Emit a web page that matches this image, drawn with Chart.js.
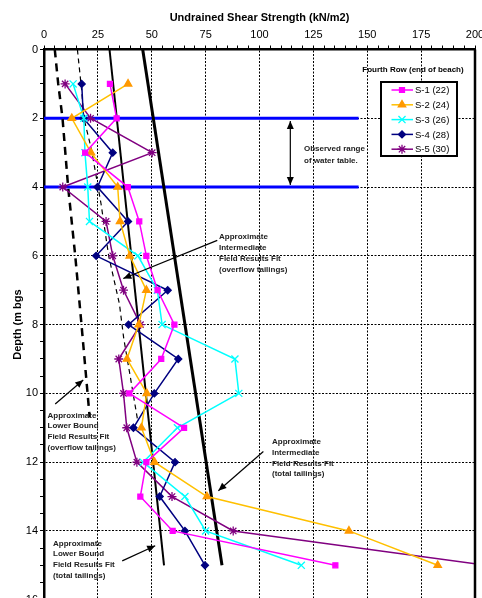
<!DOCTYPE html>
<html>
<head>
<meta charset="utf-8">
<script src="https://cdn.jsdelivr.net/npm/chart.js@4"></script>
<style>
  html, body { margin: 0; padding: 0; background: #fff; overflow: hidden; }
  #wrap { width: 482px; height: 598px; overflow: hidden; }
</style>
</head>
<body>
<div id="wrap"><canvas id="myChart" width="482" height="606"></canvas></div>
<script>
// Profondeurs des essais (m) et résistance au cisaillement (kN/m2)
var depths = [1, 2, 3, 4, 5, 6, 7, 8, 9, 10, 11, 12, 13, 14, 15];
var s1Strength = [30.6, 33.7, 19.1, 38.9, 44.2, 47.5, 52.7, 60.5, 54.4, 39.6, 65.0, 47.5, 44.7, 59.7, 135.2];
var s2Strength = [39.0, 12.9, 21.8, 34.2, 35.3, 39.8, 47.5, 44.0, 38.5, 47.7, 45.2, 51.3, 75.6, 141.5, 182.7];
var s3Strength = [13.5, 18.5, 19.0, 20.3, 21.1, 43.6, 52.6, 54.8, 88.6, 90.4, 61.9, 46.0, 65.4, 75.0, 119.4];
var s4Strength = [17.5, 18.3, 31.9, 24.8, 39.0, 24.2, 57.4, 39.2, 62.3, 51.2, 41.5, 60.8, 53.7, 65.4, 74.7];
var s5Strength = [9.8, 21.6, 50.2, 8.7, 28.8, 31.9, 36.9, 44.8, 34.7, 36.9, 38.4, 43.1, 59.4, 87.8, 205.0];
var seriesLabels = ["S-1 (22)", "S-2 (24)", "S-3 (26)", "S-4 (28)", "S-5 (30)"];

// Courbes d'ajustement
var lowerTotalFitStrength = [30.4, 55.7];
var lowerTotalFitDepth = [0, 15];
var interTotalFitStrength = [45.8, 82.6];
var interTotalFitDepth = [0, 15];
var lowerOverflowFitStrength = [5.0, 6.6, 8.6, 11.2, 14.5, 17.4, 21.2];
var lowerOverflowFitDepth = [0, 1, 2, 4, 6, 8, 10.7];
var interOverflowFitStrength = [15.5, 17.5, 18.5, 22.0, 26.5, 30.0, 35.0, 37.0, 40.0, 43.5];
var interOverflowFitDepth = [0, 1.2, 2, 2.9, 4.5, 6, 7.4, 8.4, 9.5, 10.8];

// Nappe observée
var waterTableDepths = [2, 4];
var waterTableStrength = [0, 146];

var xTickLabels = [0, 25, 50, 75, 100, 125, 150, 175, 200];
var yTickLabels = [0, 2, 4, 6, 8, 10, 12, 14, 16];

var FONT = "'Liberation Sans', Arial, sans-serif";
Chart.defaults.font.family = FONT;

function toPoints(xs, ys) {
  return xs.map(function (x, i) { return { x: x, y: ys[i] }; });
}

var seriesStyles = [
  { line: "#FF00FF", point: "#FF00FF", style: "rect", radius: 3.5 },
  { line: "#FFC000", point: "#FF9900", style: "triangle", radius: 4.3 },
  { line: "#00FFFF", point: "#00FFFF", style: "crossRot", radius: 5 },
  { line: "#000080", point: "#000080", style: "rectRot", radius: 3.5 },
  { line: "#800080", point: "#800080", style: "star", radius: 4.5 }
];
var seriesData = [s1Strength, s2Strength, s3Strength, s4Strength, s5Strength];

var datasets = seriesData.map(function (vals, i) {
  var st = seriesStyles[i];
  return {
    label: seriesLabels[i],
    data: toPoints(vals, depths),
    showLine: true,
    borderColor: st.line,
    borderWidth: 1.5,
    pointStyle: st.style,
    pointRadius: st.radius,
    pointBackgroundColor: st.point,
    pointBorderColor: st.point,
    pointBorderWidth: 1.3
  };
});

function fitLine(xs, ys, width, dash) {
  return {
    label: "fit",
    data: toPoints(xs, ys),
    showLine: true,
    borderColor: "#000",
    borderWidth: width,
    borderDash: dash,
    pointRadius: 0
  };
}
datasets.push(fitLine(lowerTotalFitStrength, lowerTotalFitDepth, 2, []));
datasets.push(fitLine(interTotalFitStrength, interTotalFitDepth, 3, []));
datasets.push(fitLine(lowerOverflowFitStrength, lowerOverflowFitDepth, 2.5, [8, 6]));
datasets.push(fitLine(interOverflowFitStrength, interOverflowFitDepth, 1.2, [5, 4]));

waterTableDepths.forEach(function (d) {
  datasets.push({
    label: "water",
    data: toPoints(waterTableStrength, [d, d]),
    showLine: true,
    borderColor: "#0000FF",
    borderWidth: 3,
    pointRadius: 0
  });
});

// Annotations (texte en pixels, flèches en unités des axes)
var notes = [
  { x: 304, y: 149, step: 11.5, lines: ["Observed range", "of water table."] },
  { x: 219, y: 236.5, step: 11, lines: ["Approximate", "Intermediate", "Field Results Fit", "(overflow tailings)"] },
  { x: 272, y: 442, step: 10.7, lines: ["Approximate", "Intermediate", "Field Results Fit", "(total tailings)"] },
  { x: 47.5, y: 415.5, step: 10.6, lines: ["Approximate", "Lower Bound", "Field Results Fit", "(overflow tailings)"] },
  { x: 53, y: 543.5, step: 10.6, lines: ["Approximate", "Lower Bound", "Field Results Fit", "(total tailings)"] }
];
var arrows = [
  { from: [80.4, 5.55], to: [36.8, 6.66] },
  { from: [5.2, 10.31], to: [18.2, 9.61] },
  { from: [101.8, 11.69], to: [80.9, 12.83] },
  { from: [36.3, 14.87], to: [51.6, 14.43] },
  { from: [114.3, 2.08], to: [114.3, 3.94], both: true }
];

function arrowHead(ctx, tx, ty, fx, fy) {
  var a = Math.atan2(ty - fy, tx - fx), L = 8, W = 3.5;
  ctx.beginPath();
  ctx.moveTo(tx, ty);
  ctx.lineTo(tx - L * Math.cos(a) + W * Math.sin(a), ty - L * Math.sin(a) - W * Math.cos(a));
  ctx.lineTo(tx - L * Math.cos(a) - W * Math.sin(a), ty - L * Math.sin(a) + W * Math.cos(a));
  ctx.closePath();
  ctx.fill();
}

var extrasPlugin = {
  id: "extras",
  afterDatasetsDraw: function (chart) {
    var ctx = chart.ctx, xs = chart.scales.x, ys = chart.scales.y, area = chart.chartArea;
    ctx.save();
    // bord droit
    ctx.strokeStyle = "#000";
    ctx.lineWidth = 2.5;
    ctx.beginPath();
    ctx.moveTo(area.right, area.top);
    ctx.lineTo(area.right, area.bottom);
    ctx.stroke();

    // flèches
    ctx.lineWidth = 1.2;
    ctx.fillStyle = "#000";
    arrows.forEach(function (a) {
      var x1 = xs.getPixelForValue(a.from[0]), y1 = ys.getPixelForValue(a.from[1]);
      var x2 = xs.getPixelForValue(a.to[0]), y2 = ys.getPixelForValue(a.to[1]);
      ctx.beginPath();
      ctx.moveTo(x1, y1);
      ctx.lineTo(x2, y2);
      ctx.stroke();
      arrowHead(ctx, x2, y2, x1, y1);
      if (a.both) arrowHead(ctx, x1, y1, x2, y2);
    });

    // textes
    ctx.fillStyle = "#222";
    ctx.font = "bold 8px " + FONT;
    ctx.textBaseline = "middle";
    ctx.textAlign = "left";
    notes.forEach(function (n) {
      n.lines.forEach(function (t, i) { ctx.fillText(t, n.x, n.y + i * n.step); });
    });

    // légende
    ctx.fillStyle = "#000";
    ctx.textAlign = "center";
    ctx.fillText("Fourth Row (end of beach)", 413, 69.5);
    ctx.fillStyle = "#fff";
    ctx.fillRect(381, 82, 76, 74);
    ctx.strokeStyle = "#000";
    ctx.lineWidth = 2;
    ctx.strokeRect(381, 82, 76, 74);
    ctx.font = "9.5px " + FONT;
    ctx.textAlign = "left";
    seriesLabels.forEach(function (lab, i) {
      var st = seriesStyles[i], y = 90 + i * 14.8;
      ctx.strokeStyle = st.line;
      ctx.lineWidth = 1.5;
      ctx.beginPath();
      ctx.moveTo(391.5, y);
      ctx.lineTo(413, y);
      ctx.stroke();
      ctx.fillStyle = st.point;
      ctx.strokeStyle = st.point;
      ctx.lineWidth = 1.3;
      Chart.helpers.drawPoint(ctx, { pointStyle: st.style, radius: st.radius, rotation: 0, borderWidth: 1.3 }, 402, y);
      ctx.fillStyle = "#000";
      ctx.fillText(lab, 415, y + 0.5);
    });
    ctx.restore();
  }
};

var ctx = document.getElementById("myChart").getContext("2d");
new Chart(ctx, {
  type: "scatter",
  data: { datasets: datasets },
  plugins: [extrasPlugin],
  options: {
    responsive: false,
    animation: false,
    layout: { padding: { top: 0, right: 7, bottom: 0, left: 0 } },
    plugins: { legend: { display: false }, tooltip: { enabled: false } },
    scales: {
      x: {
        type: "linear",
        position: "top",
        min: 0,
        max: 200,
        ticks: {
          stepSize: 5,
          autoSkip: false,
          maxRotation: 0,
          color: "#000",
          font: { size: 11 },
          padding: 4,
          callback: function (v) { return xTickLabels.indexOf(v) >= 0 ? String(v) : ""; }
        },
        grid: {
          color: function (c) { return c.tick && xTickLabels.indexOf(c.tick.value) >= 0 ? "#000" : "rgba(0,0,0,0)"; },
          lineWidth: 1,
          tickColor: "#000",
          tickLength: 4,
          tickWidth: 1
        },
        border: { color: "#000", width: 2.5, dash: [2, 1.5] },
        title: {
          display: true,
          text: "Undrained Shear Strength (kN/m2)",
          color: "#000",
          font: { size: 11, weight: "bold" },
          padding: { top: 11, bottom: 0 }
        },
        afterFit: function (s) { s.height = 49.5; s.paddingLeft = 0; s.paddingRight = 0; }
      },
      y: {
        type: "linear",
        position: "left",
        reverse: true,
        min: 0,
        max: 16,
        ticks: {
          stepSize: 0.5,
          autoSkip: false,
          color: "#000",
          font: { size: 11 },
          padding: 2,
          callback: function (v) { return yTickLabels.indexOf(v) >= 0 ? String(v) : ""; }
        },
        grid: {
          color: function (c) { return c.tick && yTickLabels.indexOf(c.tick.value) >= 0 ? "#000" : "rgba(0,0,0,0)"; },
          lineWidth: 1,
          tickColor: "#000",
          tickLength: 4,
          tickWidth: 1
        },
        border: { color: "#000", width: 2.5, dash: [2, 1.5] },
        title: {
          display: true,
          text: "Depth (m bgs",
          color: "#000",
          font: { size: 11, weight: "bold" },
          padding: { top: 11, bottom: 0 }
        },
        afterFit: function (s) { s.width = 44; s.paddingTop = 0; s.paddingBottom = 0; }
      }
    }
  }
});
</script>
</body>
</html>
